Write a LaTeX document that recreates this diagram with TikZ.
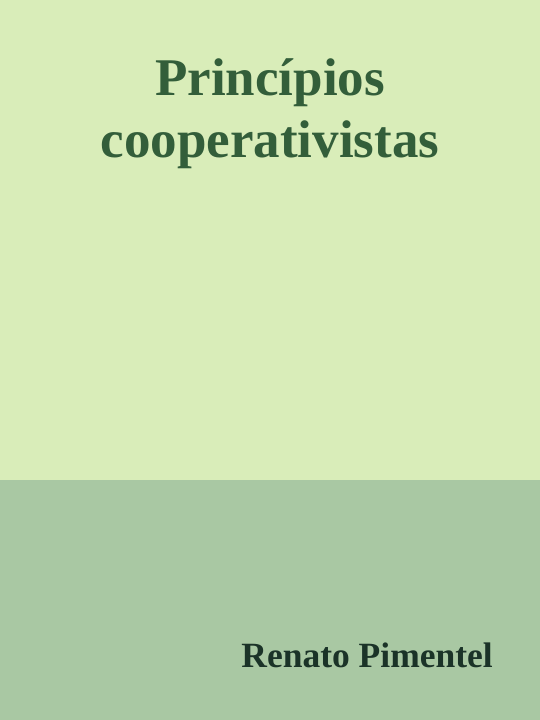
\documentclass[tikz,border=0pt]{standalone}
\usepackage{fontspec}
\setmainfont{Liberation Serif}
\definecolor{topbg}{HTML}{D9EDB9}
\definecolor{lowbg}{HTML}{A9C8A3}
\definecolor{titlegreen}{HTML}{335E3A}
\definecolor{authorgreen}{HTML}{1B3328}
\begin{document}
\begin{tikzpicture}[x=1pt,y=-1pt,
        titletext/.style={text=titlegreen, font=\bfseries\fontsize{53}{62}\selectfont,
            align=center, inner sep=0pt},
        authortext/.style={text=authorgreen, font=\bfseries\fontsize{35.5}{42}\selectfont,
            inner sep=0pt}]
            \useasboundingbox (0,0) rectangle (540,720);
            \fill[topbg] (0,0) rectangle (540,480);
            \fill[lowbg] (0,480) rectangle (540,720);

            \node[titletext, anchor=base] (title) at (270,157) {Princípios\\cooperativistas};
            \node[authortext, anchor=base east] (author) at (493,667) {Renato Pimentel};
        \end{tikzpicture}
\end{document}
